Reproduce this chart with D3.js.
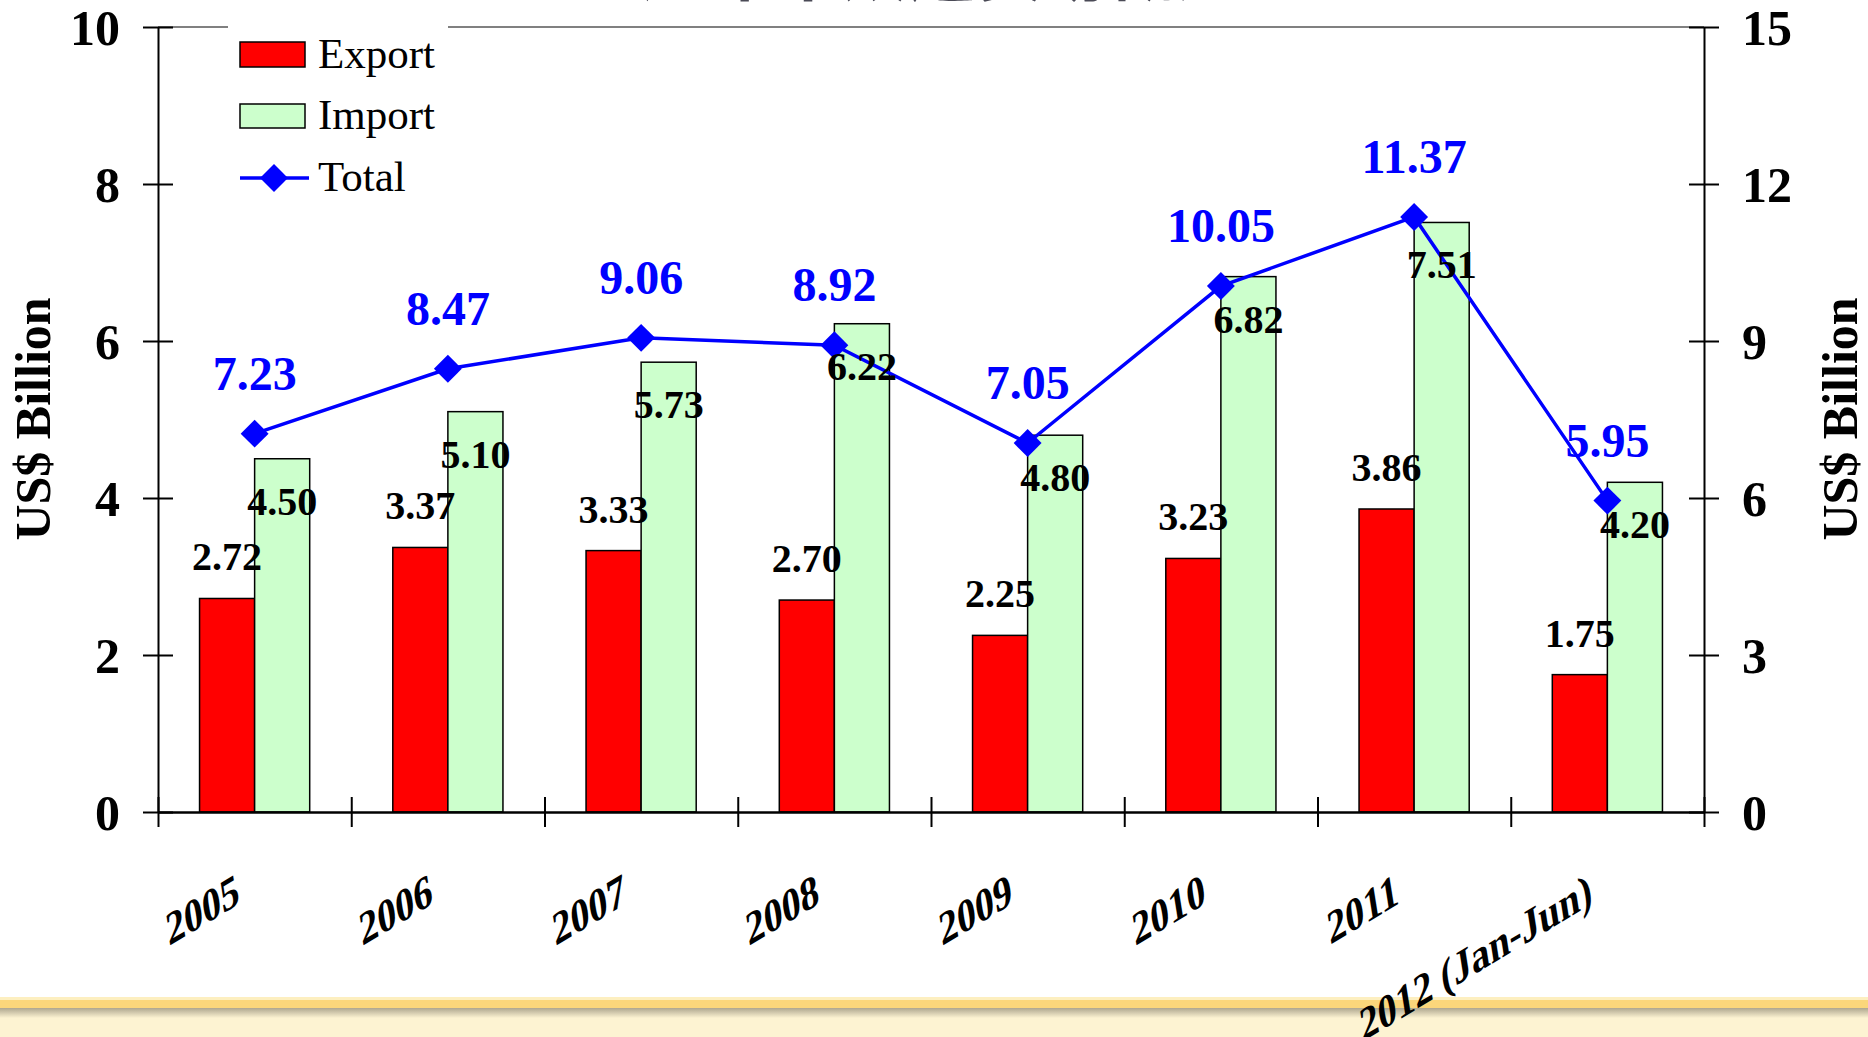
<!DOCTYPE html>
<html>
<head>
<meta charset="utf-8">
<script src="https://cdn.jsdelivr.net/npm/d3@7"></script>
<style>
  body { margin: 0; background: #fff; }
  svg { display: block; }
</style>
</head>
<body>
<div id="chart"></div>
<script>
const FRAME_WIDTH = 1868;
const FRAME_HEIGHT = 1037;
const PLOT = {left: 158, right: 1704, top: 27, bottom: 812};

const SERIF = "'Liberation Serif', 'Times New Roman', serif";

// data
const CATEGORIES = ["2005", "2006", "2007", "2008", "2009", "2010", "2011", "2012 (Jan-Jun)"];
const EXPORT_VALUES = [2.72, 3.37, 3.33, 2.70, 2.25, 3.23, 3.86, 1.75];
const IMPORT_VALUES = [4.50, 5.10, 5.73, 6.22, 4.80, 6.82, 7.51, 4.20];
const TOTAL_VALUES = [7.23, 8.47, 9.06, 8.92, 7.05, 10.05, 11.37, 5.95];
const LEFT_TICKS = [0, 2, 4, 6, 8, 10];
const RIGHT_TICKS = [0, 3, 6, 9, 12, 15];
const LEGEND_LABELS = ["Export", "Import", "Total"];
const AXIS_TITLE = "US$ Billion";
const TITLE = "近年来双边贸易概述";

const EXPORT_COLOR = "#ff0000";
const IMPORT_COLOR = "#ccffcc";
const TOTAL_COLOR = "#0000ff";

const SVG = d3.select("#chart")
  .append("svg")
    .attr("width", FRAME_WIDTH)
    .attr("height", FRAME_HEIGHT);

// scales
const X_SCALE = d3.scaleBand()
  .domain(CATEGORIES)
  .range([PLOT.left, PLOT.right]);

const X_EDGES = d3.scaleLinear()
  .domain([0, CATEGORIES.length])
  .range([PLOT.left, PLOT.right]);

const Y_LEFT = d3.scaleLinear()
  .domain([0, 10])
  .range([PLOT.bottom, PLOT.top]);

const Y_RIGHT = d3.scaleLinear()
  .domain([0, 15])
  .range([PLOT.bottom, PLOT.top]);

const BAR_WIDTH = X_SCALE.bandwidth() * 0.285;

const rows = CATEGORIES.map((c, i) => ({
  cat: c, exp: EXPORT_VALUES[i], imp: IMPORT_VALUES[i], tot: TOTAL_VALUES[i]
}));

// bottom decorative band of the slide
const defs = SVG.append("defs");
const shade = defs.append("linearGradient")
  .attr("id", "shade").attr("x1", 0).attr("x2", 0).attr("y1", 0).attr("y2", 1);
shade.append("stop").attr("offset", "0%").attr("stop-color", "#aea68f");
shade.append("stop").attr("offset", "100%").attr("stop-color", "#fdf3d2");

SVG.append("rect").attr("x", 0).attr("y", 997).attr("width", FRAME_WIDTH).attr("height", 4).attr("fill", "#fdefc0");
SVG.append("rect").attr("x", 0).attr("y", 1000).attr("width", FRAME_WIDTH).attr("height", 8).attr("fill", "#fbd67b");
SVG.append("rect").attr("x", 0).attr("y", 1008).attr("width", FRAME_WIDTH).attr("height", 10).attr("fill", "url(#shade)");
SVG.append("rect").attr("x", 0).attr("y", 1018).attr("width", FRAME_WIDTH).attr("height", 19).attr("fill", "#fdf3d2");

// slide title, mostly cut off at the top
SVG.append("text")
  .attr("x", 942)
  .attr("y", -5)
  .attr("text-anchor", "middle")
  .attr("font-family", "'Noto Sans CJK SC', sans-serif")
  .attr("font-weight", "bold")
  .attr("font-size", "67px")
  .attr("fill", "#4a4a56")
  .text(TITLE);

// gray top border of plot area
SVG.append("line")
  .attr("x1", PLOT.left).attr("x2", PLOT.right)
  .attr("y1", PLOT.top).attr("y2", PLOT.top)
  .attr("stroke", "#808080").attr("stroke-width", 2);

// bars
SVG.selectAll(".exp")
  .data(rows)
  .enter()
  .append("rect")
    .attr("class", "exp")
    .attr("x", (d) => X_SCALE(d.cat) + X_SCALE.bandwidth() / 2 - BAR_WIDTH)
    .attr("y", (d) => Y_LEFT(d.exp))
    .attr("width", BAR_WIDTH)
    .attr("height", (d) => Y_LEFT(0) - Y_LEFT(d.exp))
    .attr("fill", EXPORT_COLOR)
    .attr("stroke", "#000")
    .attr("stroke-width", 1.5);

SVG.selectAll(".imp")
  .data(rows)
  .enter()
  .append("rect")
    .attr("class", "imp")
    .attr("x", (d) => X_SCALE(d.cat) + X_SCALE.bandwidth() / 2)
    .attr("y", (d) => Y_LEFT(d.imp))
    .attr("width", BAR_WIDTH)
    .attr("height", (d) => Y_LEFT(0) - Y_LEFT(d.imp))
    .attr("fill", IMPORT_COLOR)
    .attr("stroke", "#000")
    .attr("stroke-width", 1.5);

// left axis
const leftAxis = SVG.append("g")
  .attr("transform", "translate(" + PLOT.left + ",0)")
  .call(d3.axisLeft(Y_LEFT).tickValues(LEFT_TICKS).tickSize(15).tickPadding(23).tickSizeOuter(0));
leftAxis.selectAll(".tick line").attr("x2", -15).attr("x1", 15).attr("stroke-width", 2);
leftAxis.select(".domain").attr("stroke-width", 2);
leftAxis.selectAll("text")
  .attr("font-family", SERIF).attr("font-weight", "bold").attr("font-size", "50px")
  .attr("dy", "0.34em").attr("fill", "#000");

// right axis
const rightAxis = SVG.append("g")
  .attr("transform", "translate(" + PLOT.right + ",0)")
  .call(d3.axisRight(Y_RIGHT).tickValues(RIGHT_TICKS).tickSize(15).tickPadding(23).tickSizeOuter(0));
rightAxis.selectAll(".tick line").attr("x1", -15).attr("x2", 15).attr("stroke-width", 2);
rightAxis.select(".domain").attr("stroke-width", 2);
rightAxis.selectAll("text")
  .attr("font-family", SERIF).attr("font-weight", "bold").attr("font-size", "50px")
  .attr("dy", "0.34em").attr("fill", "#000");

// bottom axis, ticks between categories
const bottomAxis = SVG.append("g")
  .attr("transform", "translate(0," + PLOT.bottom + ")")
  .call(d3.axisBottom(X_EDGES).tickValues(d3.range(CATEGORIES.length + 1)).tickFormat("").tickSize(15).tickSizeOuter(0));
bottomAxis.selectAll(".tick line").attr("y1", -15).attr("y2", 15).attr("stroke-width", 2);
bottomAxis.select(".domain").attr("stroke-width", 2.5);

// category labels
SVG.selectAll(".xlab")
  .data(CATEGORIES)
  .enter()
  .append("text")
    .attr("class", "xlab")
    .attr("transform", (d) => "translate(" + (X_SCALE(d) + X_SCALE.bandwidth() / 2 - 14) + ",903) rotate(-31) skewX(-22)")
    .attr("text-anchor", "end")
    .attr("font-family", SERIF)
    .attr("font-weight", "bold")
    .attr("font-size", "42px")
    .text((d) => d);

// total line
const line = d3.line()
  .x((d) => X_SCALE(d.cat) + X_SCALE.bandwidth() / 2)
  .y((d) => Y_RIGHT(d.tot));

SVG.append("path")
  .datum(rows)
  .attr("d", line)
  .attr("fill", "none")
  .attr("stroke", TOTAL_COLOR)
  .attr("stroke-width", 3.5);

const diamond = d3.symbol(d3.symbolSquare, 390);

SVG.selectAll(".mark")
  .data(rows)
  .enter()
  .append("path")
    .attr("class", "mark")
    .attr("d", diamond)
    .attr("transform", (d) => "translate(" + (X_SCALE(d.cat) + X_SCALE.bandwidth() / 2) + "," + Y_RIGHT(d.tot) + ") rotate(45)")
    .attr("fill", TOTAL_COLOR);

// value labels
SVG.selectAll(".explab")
  .data(rows)
  .enter()
  .append("text")
    .attr("x", (d) => X_SCALE(d.cat) + X_SCALE.bandwidth() / 2 - BAR_WIDTH / 2)
    .attr("y", (d) => Y_LEFT(d.exp) - 28)
    .attr("text-anchor", "middle")
    .attr("font-family", SERIF).attr("font-weight", "bold").attr("font-size", "40px")
    .text((d) => d.exp.toFixed(2));

SVG.selectAll(".implab")
  .data(rows)
  .enter()
  .append("text")
    .attr("x", (d) => X_SCALE(d.cat) + X_SCALE.bandwidth() / 2 + BAR_WIDTH / 2)
    .attr("y", (d) => Y_LEFT(d.imp) + 56)
    .attr("text-anchor", "middle")
    .attr("font-family", SERIF).attr("font-weight", "bold").attr("font-size", "40px")
    .text((d) => d.imp.toFixed(2));

SVG.selectAll(".totlab")
  .data(rows)
  .enter()
  .append("text")
    .attr("x", (d) => X_SCALE(d.cat) + X_SCALE.bandwidth() / 2)
    .attr("y", (d) => Y_RIGHT(d.tot) - 44)
    .attr("text-anchor", "middle")
    .attr("font-family", SERIF).attr("font-weight", "bold").attr("font-size", "48px")
    .attr("fill", TOTAL_COLOR)
    .text((d) => d.tot.toFixed(2));

// axis titles
SVG.append("text")
  .attr("transform", "translate(50,419) rotate(-90)")
  .attr("text-anchor", "middle")
  .attr("font-family", SERIF).attr("font-weight", "bold").attr("font-size", "50px")
  .text(AXIS_TITLE);

SVG.append("text")
  .attr("transform", "translate(1857,419) rotate(-90)")
  .attr("text-anchor", "middle")
  .attr("font-family", SERIF).attr("font-weight", "bold").attr("font-size", "50px")
  .text(AXIS_TITLE);

// legend
const legend = SVG.append("g");
legend.append("rect")
  .attr("x", 228).attr("y", 18).attr("width", 220).attr("height", 190)
  .attr("fill", "#fff");

const LEGEND_Y = [54.5, 116, 178];

legend.append("rect")
  .attr("x", 240).attr("y", LEGEND_Y[0] - 12.5).attr("width", 65).attr("height", 25)
  .attr("fill", EXPORT_COLOR).attr("stroke", "#000").attr("stroke-width", 1.5);
legend.append("rect")
  .attr("x", 240).attr("y", LEGEND_Y[1] - 12).attr("width", 65).attr("height", 24)
  .attr("fill", IMPORT_COLOR).attr("stroke", "#000").attr("stroke-width", 1.5);
legend.append("line")
  .attr("x1", 240).attr("x2", 309).attr("y1", LEGEND_Y[2]).attr("y2", LEGEND_Y[2])
  .attr("stroke", TOTAL_COLOR).attr("stroke-width", 3.5);
legend.append("path")
  .attr("d", diamond)
  .attr("transform", "translate(274," + LEGEND_Y[2] + ") rotate(45)")
  .attr("fill", TOTAL_COLOR);

legend.selectAll(".ltext")
  .data(LEGEND_LABELS)
  .enter()
  .append("text")
    .attr("x", 318)
    .attr("y", (d, i) => LEGEND_Y[i] + 13)
    .attr("font-family", SERIF)
    .attr("font-size", "43px")
    .text((d) => d);
</script>
</body>
</html>
